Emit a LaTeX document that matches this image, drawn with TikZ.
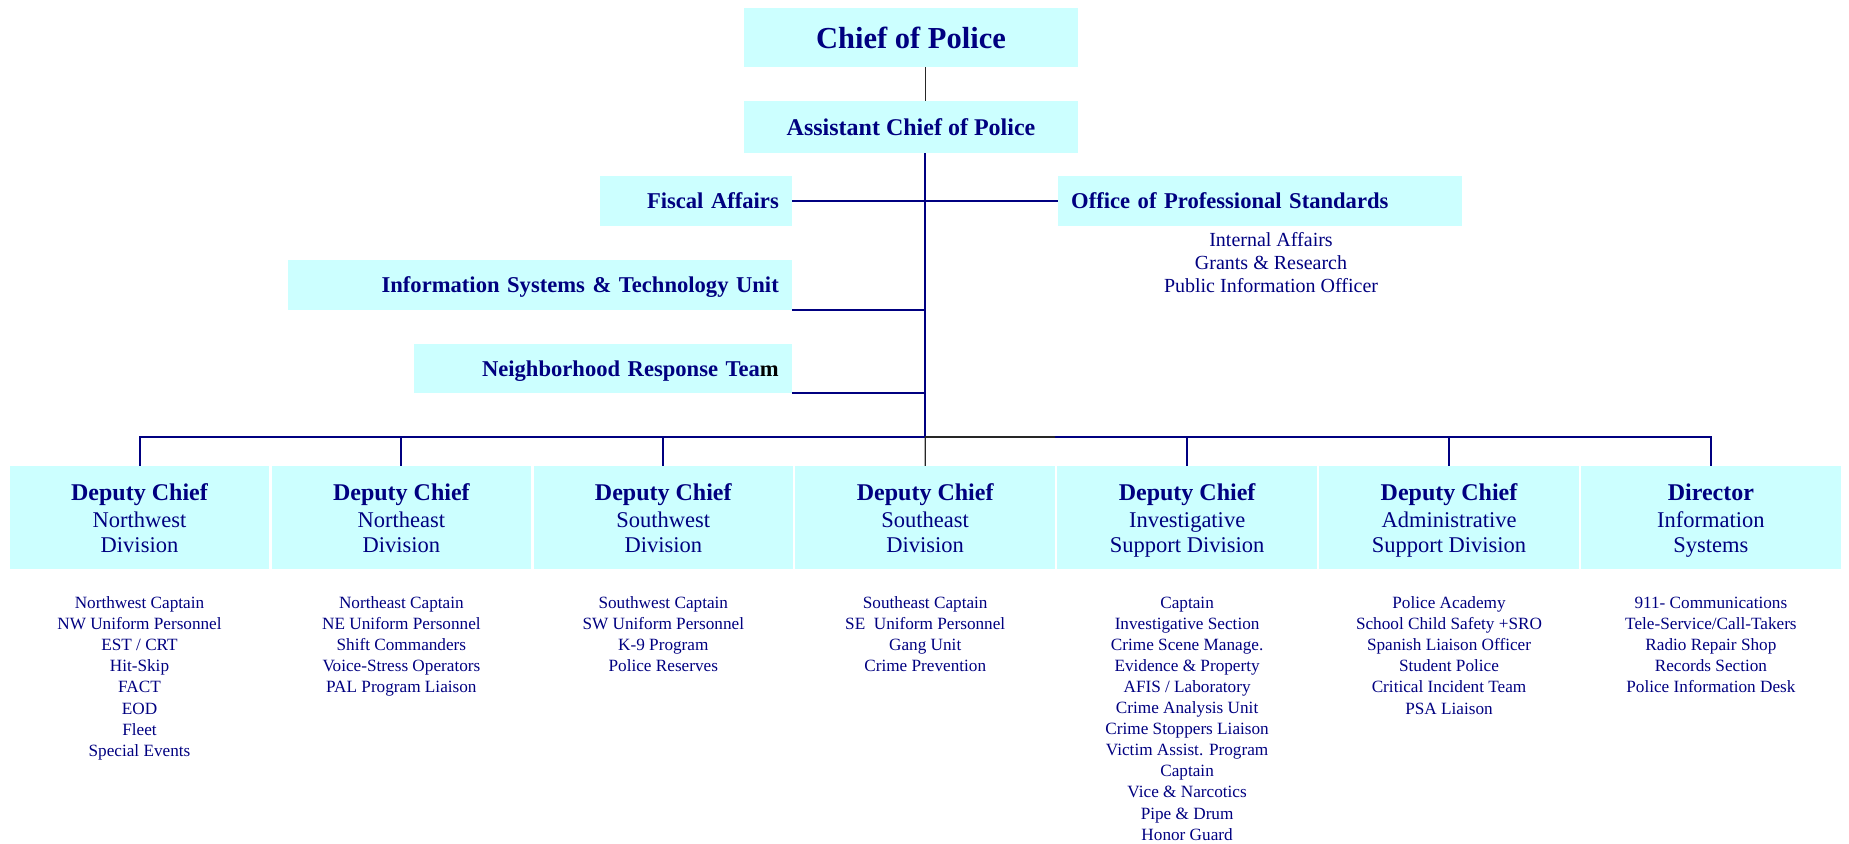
\documentclass[tikz,border=0pt]{standalone}
\usepackage{fontspec}
\setmainfont{Liberation Serif}
\definecolor{boxfill}{RGB}{204,255,255}
\definecolor{ink}{RGB}{0,0,128}
\tikzset{
  box/.style={fill=boxfill, draw=none, inner sep=0pt, text=ink},
  sidebox/.style={box, minimum height=50, text height=15.4, text depth=0pt,
    inner xsep=13, font=\bfseries\fontsize{22.6}{27}\selectfont},
  dbox/.style={box, minimum width=259.5, minimum height=103},
  dhead/.style={text=ink, anchor=base, inner sep=0pt, font=\bfseries\fontsize{24}{28}\selectfont},
  dsub/.style={text=ink, anchor=base, inner sep=0pt, font=\fontsize{22.5}{26}\selectfont},
  item/.style={text=ink, anchor=base, inner sep=0pt, font=\fontsize{17.2}{21}\selectfont},
  opsitem/.style={text=ink, anchor=base, inner sep=0pt, font=\fontsize{20}{23}\selectfont},
  link/.style={draw=ink, line width=2pt},
  sublink/.style={draw=ink, line width=1.5pt},
  blacklink/.style={draw=black!85, line width=1.4pt},
}
\begin{document}
\begin{tikzpicture}[x=1pt,y=-1pt]
\useasboundingbox (0,0) rectangle (1849,843);

% top
\node[box, minimum width=334, minimum height=59, text height=22, text depth=0pt,
  font=\bfseries\fontsize{30.5}{36}\selectfont] (chief) at (911,37.5) {Chief of Police};
\node[box, minimum width=334, minimum height=52, text height=16.4, text depth=0pt,
  font=\bfseries\fontsize{24}{28}\selectfont] (asst) at (911,127) {Assistant Chief of Police};

% staff boxes
\node[sidebox, anchor=east, text width=166, align=right] (fiscal) at (792,201) {Fiscal Affairs};
\node[sidebox, anchor=west, text width=378, align=left] (ops) at (1058,201) {Office of Professional Standards};
\node[sidebox, anchor=east, text width=478, align=right] (istu) at (792,285) {Information Systems \& Technology Unit};
\node[sidebox, anchor=east, text width=352, align=right, minimum height=49] (nrt) at (792,368.5) {Neighborhood Response Tea\textcolor{black}{m}};

\node[opsitem] (ops1) at (1271,246) {Internal Affairs};
\node[opsitem] (ops2) at (1271,269) {Grants \& Research};
\node[opsitem] (ops3) at (1271,292) {Public Information Officer};

% division boxes
\foreach \a/\b/\c [count=\i] in {
  Deputy Chief/Northwest/Division,
  Deputy Chief/Northeast/Division,
  Deputy Chief/Southwest/Division,
  Deputy Chief/Southeast/Division,
  Deputy Chief/Investigative/Support Division,
  Deputy Chief/Administrative/Support Division,
  Director/Information/Systems}{
  \node[dbox] (d\i) at ({139.5+261.9*(\i-1)},517.5) {};
  \node[dhead] (d\i-a) at ({139.5+261.9*(\i-1)},500) {\a};
  \node[dsub] (d\i-b) at ({139.5+261.9*(\i-1)},527) {\b};
  \node[dsub] (d\i-c) at ({139.5+261.9*(\i-1)},552.5) {\c};
}

% lists
\foreach \t [count=\j] in {Northwest Captain, NW Uniform Personnel, EST / CRT, Hit-Skip, FACT, EOD, Fleet, Special Events}
  \node[item] (l1-\j) at (139.5,{608+21.2*(\j-1)}) {\t};
\foreach \t [count=\j] in {Northeast Captain, NE Uniform Personnel, Shift Commanders, Voice-Stress Operators, PAL Program Liaison}
  \node[item] (l2-\j) at (401.4,{608+21.2*(\j-1)}) {\t};
\foreach \t [count=\j] in {Southwest Captain, SW Uniform Personnel, K-9 Program, Police Reserves}
  \node[item] (l3-\j) at (663.3,{608+21.2*(\j-1)}) {\t};
\foreach \t [count=\j] in {Southeast Captain, SE~ Uniform Personnel, Gang Unit, Crime Prevention}
  \node[item] (l4-\j) at (925.2,{608+21.2*(\j-1)}) {\t};
\foreach \t [count=\j] in {Captain, Investigative Section, Crime Scene Manage., Evidence \& Property, AFIS / Laboratory, Crime Analysis Unit, Crime Stoppers Liaison, Victim Assist. Program, Captain, Vice \& Narcotics, Pipe \& Drum, Honor Guard}
  \node[item] (l5-\j) at (1187.1,{608+21.1*(\j-1)}) {\t};
\foreach \t [count=\j] in {Police Academy, School Child Safety +SRO, Spanish Liaison Officer, Student Police, Critical Incident Team, PSA Liaison}
  \node[item] (l6-\j) at (1449,{608+21.2*(\j-1)}) {\t};
\foreach \t [count=\j] in {911- Communications, Tele-Service/Call-Takers, Radio Repair Shop, Records Section, Police Information Desk}
  \node[item] (l7-\j) at (1710.9,{608+21.2*(\j-1)}) {\t};

% connectors
\coordinate (bus) at (925.2,437);
\draw[blacklink] (chief.south -| bus) -- (asst.north -| bus);
\draw[link] (asst.south -| bus) -- (bus);
\draw[sublink] (fiscal.east) -- (ops.west);
\draw[link] (istu.south east) -- (istu.south east -| bus);
\draw[link] (nrt.south east) -- (nrt.south east -| bus);
\draw[link] (d1.north) |- (bus);
\draw[blacklink] (bus) -- (d4.north east |- bus);
\draw[link] (d7.north) |- (d4.north east |- bus);
\draw[blacklink] (bus) -- (d4.north);
\foreach \i in {2,3,5,6}
  \draw[link] (d\i.north |- bus) -- (d\i.north);
\end{tikzpicture}
\end{document}
